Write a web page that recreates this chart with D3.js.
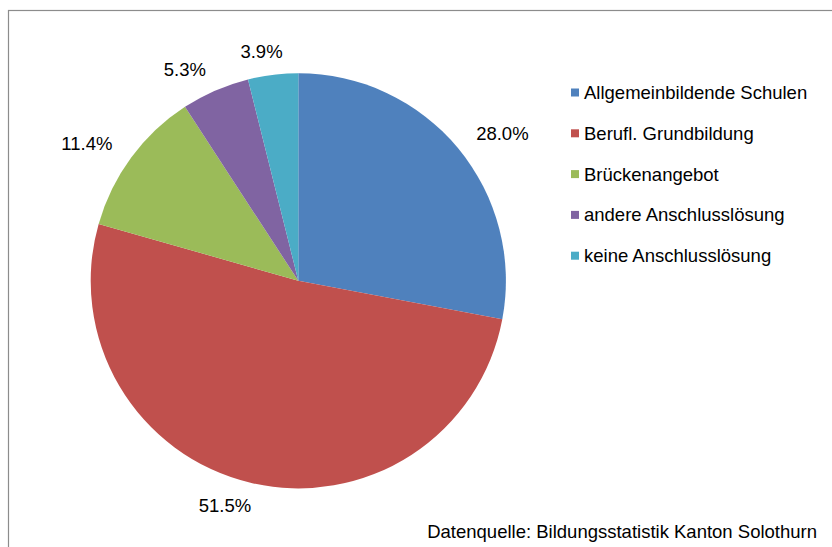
<!DOCTYPE html>
<html>
<head>
<meta charset="utf-8">
<script src="https://cdn.jsdelivr.net/npm/d3@7"></script>
<style>
  html, body { margin: 0; padding: 0; background: #fff; }
  svg { display: block; }
  text { font-family: "Liberation Sans", Arial, sans-serif; fill: #000; }
</style>
</head>
<body>
<svg id="chart" width="832" height="547"></svg>
<script>
const categories = ["Allgemeinbildende Schulen", "Berufl. Grundbildung", "Brückenangebot", "andere Anschlusslösung", "keine Anschlusslösung"];
const values = [28.0, 51.5, 11.4, 5.3, 3.9];
const labels = ["28.0%", "51.5%", "11.4%", "5.3%", "3.9%"];
const colors = ["#4F81BD", "#C0504D", "#9BBB59", "#8064A2", "#4BACC6"];
const sourceText = "Datenquelle: Bildungsstatistik Kanton Solothurn";

const W = 832, H = 547;
const svg = d3.select("#chart");

// chart area border
svg.append("rect")
  .attr("x", 8.5).attr("y", 10.5)
  .attr("width", W + 10).attr("height", H + 10)
  .attr("fill", "#fff")
  .attr("stroke", "#8c8c8c").attr("stroke-width", 1.2);

const cx = 298.3, cy = 280.8, r = 207.6;
const g = svg.append("g").attr("transform", `translate(${cx},${cy})`);

const data = categories.map((c, i) => ({ name: c, value: values[i], label: labels[i], color: colors[i] }));
const pie = d3.pie().sort(null).value(d => d.value);
const arc = d3.arc().innerRadius(0).outerRadius(r);
const arcs = pie(data);

g.selectAll("path.slice").data(arcs).join("path")
  .attr("class", "slice")
  .attr("d", arc)
  .attr("fill", d => d.data.color);

// outside-end labels
const fs = 18.5, labelR = r + 23.4;
g.selectAll("text.lbl").data(arcs).join("text")
  .attr("class", "lbl")
  .attr("font-size", fs)
  .attr("text-anchor", "middle")
  .attr("dominant-baseline", "central")
  .text(d => d.data.label)
  .each(function(d) {
    const bb = this.getBBox();
    const a = (d.startAngle + d.endAngle) / 2;
    const s = Math.sin(a), c = -Math.cos(a);
    const hw = bb.width / 2;
    const x = s * labelR + Math.sign(s) * hw * Math.min(1, Math.abs(s) / 0.3);
    const y = c * labelR;
    d3.select(this).attr("x", x).attr("y", y);
  });

// legend
const legX = 571, legY0 = 92.5, legStep = 40.8;
const leg = svg.append("g");
const rows = leg.selectAll("g").data(data).join("g")
  .attr("transform", (d, i) => `translate(${legX},${legY0 + i * legStep})`);
rows.append("rect").attr("x", 0).attr("y", -4).attr("width", 8).attr("height", 8).attr("fill", d => d.color);
rows.append("text").attr("x", 13).attr("y", 0)
  .attr("dominant-baseline", "central")
  .attr("font-size", fs)
  .text(d => d.name);

svg.append("text")
  .attr("x", 817).attr("y", 538)
  .attr("text-anchor", "end")
  .attr("font-size", fs)
  .text(sourceText);
</script>
</body>
</html>
